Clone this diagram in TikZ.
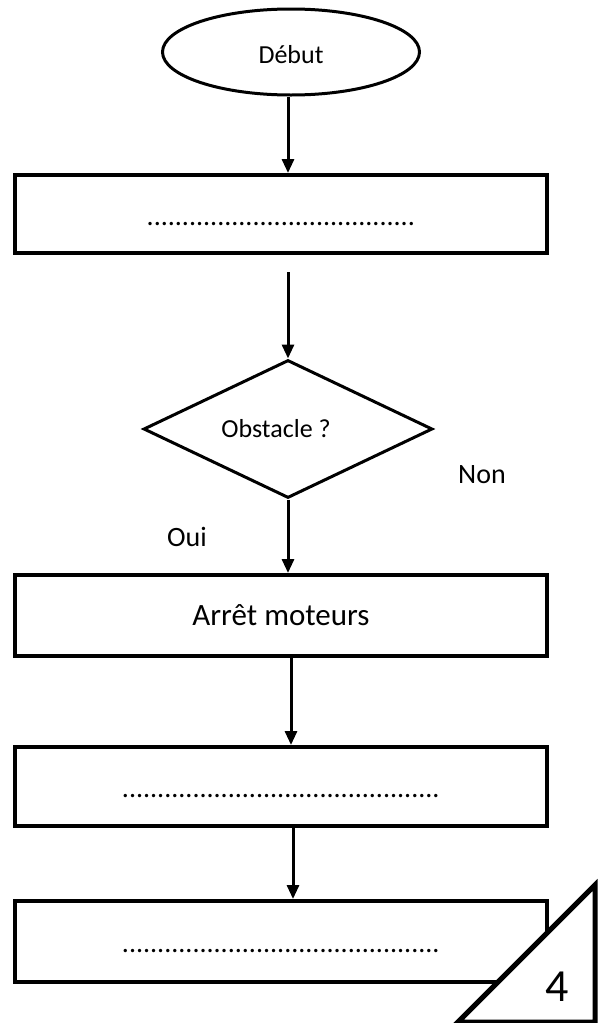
\documentclass[tikz,border=0pt]{standalone}
\usepackage{fontspec}
\setmainfont{Carlito}
\usetikzlibrary{shapes.geometric,arrows.meta}
\begin{document}
\begin{tikzpicture}[x=1pt,y=-1pt,
  box/.style={draw,line width=4pt,minimum width=532pt,inner sep=0pt},
  arr/.style={line width=3pt,-{Triangle[length=14pt,width=12pt]}},
  lbl/.style={font=\fontsize{28}{32}\selectfont,inner sep=0pt},
  dotsfont/.style={font=\fontsize{28}{32}\selectfont,text height=22pt,text depth=0pt}]
\useasboundingbox (0,0) rectangle (605,1023);
\node[draw,ellipse,line width=3pt,minimum width=257pt,minimum height=86pt,inner sep=0pt,
  font=\fontsize{26}{30}\selectfont,text height=22pt,text depth=0pt] (start) at (291,52) {Début};
\node[box,minimum height=78pt,dotsfont] (b1) at (281,214) {......................................};
\node[draw,diamond,line width=3pt,minimum width=289pt,minimum height=138pt,inner sep=0pt,
  label={[xshift=-12pt,font=\fontsize{26}{30}\selectfont]center:Obstacle ?}] (dia) at (288,429) {};
\node[box,minimum height=81pt,font=\fontsize{31}{36}\selectfont] (b2) at (281,615.5) {Arrêt moteurs};
\node[box,minimum height=79pt,dotsfont] (b3) at (281,786.5) {.............................................};
\node[box,minimum height=81pt,dotsfont] (b4) at (281,941.5) {.............................................};
\node[lbl] (non) at (482,475) {Non};
\node[lbl] (oui) at (187,537) {Oui};
\draw[arr] (start.south -| dia.north) -- (b1.north -| dia.north);
\draw[arr] ([yshift=-17pt]b1.south -| dia.north) -- (dia.north);
\draw[arr] (dia.south) -- (dia.south |- b2.north);
\draw[arr] ([xshift=10pt]b2.south) -- ([xshift=10pt]b3.north);
\draw[arr] ([xshift=12pt]b3.south) -- ([xshift=12pt]b4.north);
\draw[line width=5pt,fill=white,line join=miter] (458,1022) -- (595,1022) -- (595,885) -- cycle;
\node[font=\fontsize{46}{50}\selectfont,inner sep=0pt] (four) at (557,987) {4};
\end{tikzpicture}
\end{document}
